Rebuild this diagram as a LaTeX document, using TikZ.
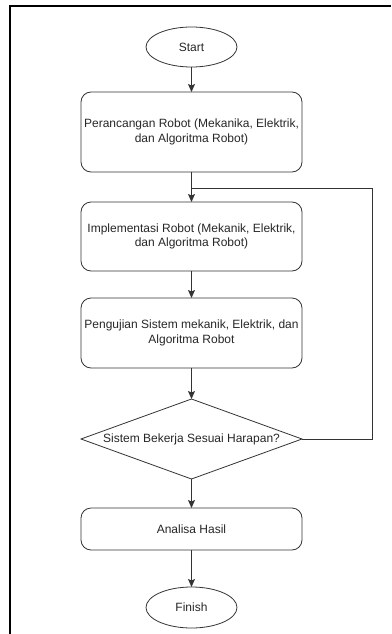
\documentclass[tikz,border=0pt]{standalone}
\usepackage{fontspec}
\setmainfont{Liberation Sans}
\usetikzlibrary{shapes.geometric, arrows.meta}
\begin{document}
\begin{tikzpicture}[>={Stealth[length=8pt, width=7pt, inset=1.5pt]}, x=1pt, y=-1pt,
   every node/.style={font=\fontsize{12}{14.4}\selectfont, text=black!85, inner sep=0, outer sep=0},
   proses/.style={draw=black!80, line width=.8pt, rounded corners=10, minimum width=221, minimum height=#1, align=center},
   terminal/.style={draw=black!80, line width=.8pt, ellipse, minimum width=91, minimum height=#1},
   keputusan/.style={draw=black!80, line width=.8pt, diamond, aspect=2.75, minimum width=221, minimum height=80},
   alur/.style={draw=black!80, line width=.8pt}]
\useasboundingbox (0,0) rectangle (391,634);
\draw[line width=2.2pt](10,634)--(10,6)--(391,6);
\node[terminal=40] (start) at (191.5,47) {Start};
\node[proses=80] (rancang) at (191.5,132) {Perancangan Robot (Mekanika, Elektrik,\\dan Algoritma Robot)};
\node[proses=69] (implementasi) at (191.5,236.5) {Implementasi Robot (Mekanik, Elektrik,\\dan Algoritma Robot)};
\node[proses=70] (uji) at (191.5,333) {Pengujian Sistem mekanik, Elektrik, dan\\Algoritma Robot};
\node[keputusan] (cek) at (191.5,439) {Sistem Bekerja Sesuai Harapan?};
\node[proses=42] (analisa) at (191.5,529) {Analisa Hasil};
\node[terminal=41] (finish) at (191.5,607.5) {Finish};
\coordinate (temu) at (191.5,188);
\coordinate (balik) at (372,188);
\draw[alur,->](start)--(rancang);
\draw[alur,->](rancang)--(implementasi);
\draw[alur,->](implementasi)--(uji);
\draw[alur,->](uji)--(cek);
\draw[alur,->](cek)--(analisa);
\draw[alur,->](analisa)--(finish);
\draw[alur](cek.east)-|(balik)--(temu);


\end{tikzpicture}
\end{document}
